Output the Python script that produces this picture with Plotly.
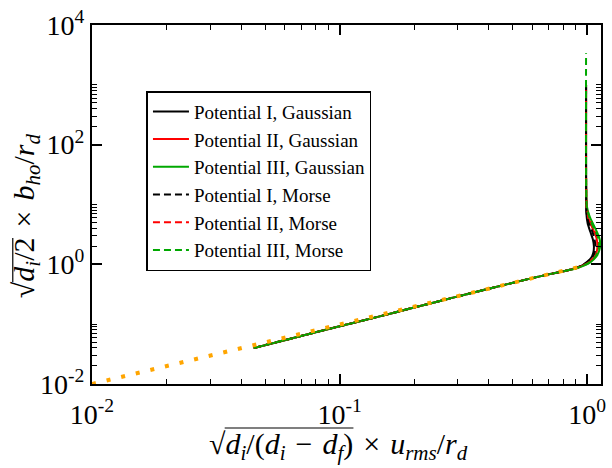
import plotly.graph_objects as go

# ---------------- data ----------------
lower_x = [0.045, 0.06, 0.08, 0.1, 0.14, 0.2, 0.28, 0.4, 0.55, 0.7, 0.82]
lower_y = [0.040, 0.054, 0.073, 0.092, 0.13, 0.19, 0.27, 0.39, 0.54, 0.68, 0.78]

g1_x = lower_x + [0.9, 0.96, 1.0, 1.04, 1.06, 1.065, 1.055, 1.03, 1.005, 0.993, 0.99, 0.99]
g1_y = lower_y + [0.87, 0.97, 1.1, 1.3, 1.6, 2.0, 2.6, 3.5, 4.8, 7.0, 30, 1000]
g2_x = lower_x + [0.9, 0.965, 1.02, 1.07, 1.095, 1.10, 1.09, 1.055, 1.015, 0.996, 0.99, 0.99]
g2_y = lower_y + [0.86, 0.96, 1.1, 1.33, 1.68, 2.1, 2.8, 3.9, 5.7, 8.6, 30, 1000]
g3_x = lower_x + [0.9, 0.97, 1.035, 1.09, 1.12, 1.13, 1.115, 1.075, 1.025, 0.998, 0.99, 0.99]
g3_y = lower_y + [0.85, 0.95, 1.1, 1.35, 1.72, 2.2, 2.95, 4.1, 6.2, 9.2, 30, 1000]
m1_x = lower_x + [0.9, 0.96, 1.01, 1.05, 1.075, 1.08, 1.07, 1.045, 1.01, 0.994, 0.99, 0.99]
m1_y = lower_y + [0.87, 0.97, 1.1, 1.32, 1.64, 2.05, 2.7, 3.7, 5.2, 7.8, 30, 1000]
m2_x = lower_x + [0.9, 0.965, 1.025, 1.075, 1.105, 1.11, 1.10, 1.06, 1.02, 0.997, 0.99, 0.99]
m2_y = lower_y + [0.86, 0.96, 1.1, 1.34, 1.7, 2.15, 2.85, 4.0, 5.9, 8.8, 30, 1000]
m3_x = lower_x + [0.9, 0.968, 1.03, 1.08, 1.11, 1.118, 1.105, 1.065, 1.022, 0.997, 0.99, 0.99]
m3_y = lower_y + [0.855, 0.955, 1.1, 1.34, 1.7, 2.15, 2.9, 4.0, 6.0, 9.0, 40, 3400]

ref_x = [0.01, 0.975]
ref_y = [0.01, 0.95]

names = ["Potential I, Gaussian", "Potential II, Gaussian", "Potential III, Gaussian",
         "Potential I, Morse", "Potential II, Morse", "Potential III, Morse"]

x_tickvals = [0.01, 0.1, 1]
x_ticktext = ["10<sup>-2</sup>", "10<sup>-1</sup>", "10<sup>0</sup>"]
y_tickvals = [0.01, 1, 100, 10000]
y_ticktext = ["10<sup>-2</sup>", "10<sup>0</sup>", "10<sup>2</sup>", "10<sup>4</sup>"]
x_minor = [j * 0.01 for j in range(2, 10)] + [j * 0.1 for j in range(2, 10)]
y_minor = [j * 0.01 for j in range(2, 11)] + [j * 1.0 for j in range(2, 11)] + [j * 100.0 for j in range(2, 11)]

SP = "\u2004"
x_title = ("√<i>d<sub>i</sub></i>/(<i>d<sub>i</sub></i>" + SP + "−" + SP + "<i>d<sub>f</sub></i>)"
           + SP + "×" + SP + "<i>u<sub>rms</sub></i>/<i>r<sub>d</sub></i>")
y_title = "√<i>d<sub>i</sub></i>/2" + SP + "×" + SP + "<i>b<sub>ho</sub></i>/<i>r<sub>d</sub></i>"

# ---------------- figure ----------------
GREEN = "#00a800"
DASH = "7px,4px"
series = [
    (g1_x, g1_y, "black", "solid"),
    (g2_x, g2_y, "red", "solid"),
    (g3_x, g3_y, GREEN, "solid"),
    (m1_x, m1_y, "black", DASH),
    (m2_x, m2_y, "red", DASH),
    (m3_x, m3_y, GREEN, DASH),
]

fig = go.Figure()
for (xs, ys, col, dash), nm in zip(series, names):
    fig.add_trace(go.Scatter(x=xs, y=ys, mode="lines", name=nm,
                             line=dict(color=col, width=2, dash=dash, shape="spline", smoothing=0.6)))

fig.add_trace(go.Scatter(x=ref_x, y=ref_y, mode="lines", showlegend=False,
                         line=dict(color="#FFA500", width=4, dash="4px,11px")))

FONT = "Liberation Serif, Times New Roman, serif"
axis_common = dict(type="log", showgrid=False, zeroline=False, showline=True, linecolor="black",
                   linewidth=2, mirror="ticks", ticks="inside", ticklen=10, tickwidth=1.5,
                   tickcolor="black", tickfont=dict(family=FONT, size=28, color="black"),
                   tickmode="array")

fig.update_xaxes(**axis_common, range=[-2, 0.056], tickvals=x_tickvals, ticktext=x_ticktext,
                 ticklabelstandoff=4,
                 minor=dict(ticks="inside", ticklen=5, tickwidth=1.2, tickcolor="black",
                            tickmode="array", tickvals=x_minor))
fig.update_yaxes(**axis_common, range=[-2, 4], tickvals=y_tickvals, ticktext=y_ticktext,
                 minor=dict(ticks="inside", ticklen=5, tickwidth=1.2, tickcolor="black",
                            tickmode="array", tickvals=y_minor))

# plot area: x px 92..606, y px 25..384
def px_x(p):
    return (p - 92) / 514.0

def px_y(p):
    return (384 - p) / 359.0

TF = 30
fig.add_annotation(text=x_title, xref="paper", yref="paper", x=px_x(208), y=px_y(446),
                   xanchor="left", yanchor="middle", showarrow=False,
                   font=dict(family=FONT, size=TF, color="black"))
fig.add_annotation(text=y_title, xref="paper", yref="paper", x=px_x(25), y=px_y(300),
                   xanchor="center", yanchor="bottom", textangle=-90, showarrow=False,
                   font=dict(family=FONT, size=TF, color="black"))

# radical overlines
fig.add_shape(type="line", xref="paper", yref="paper",
              x0=px_x(226), x1=px_x(356), y0=px_y(428), y1=px_y(428),
              line=dict(color="black", width=1.2))
fig.add_shape(type="line", xref="paper", yref="paper",
              x0=px_x(12), x1=px_x(12), y0=px_y(282), y1=px_y(238),
              line=dict(color="black", width=1.2))

fig.update_layout(
    width=612, height=468,
    margin=dict(l=92, r=6, t=25, b=84),
    paper_bgcolor="white", plot_bgcolor="white",
    font=dict(family=FONT, color="black"),
    legend=dict(x=0.107, y=0.816, xanchor="left", yanchor="top",
                bgcolor="white", bordercolor="black", borderwidth=1.5,
                font=dict(family=FONT, size=19, color="black"),
                tracegroupgap=0, itemwidth=36),
)

fig.write_html("out.html")
